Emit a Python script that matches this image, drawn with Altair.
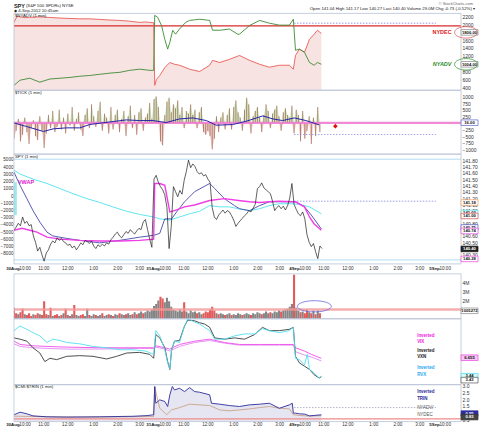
import altair as alt
import pandas as pd

FONT = "Liberation Sans"
W = 448            # plot width in px
X_MAX = 1245       # trading minutes shown: 3 sessions of 390 min + 75 min
STEP = 6           # spacing of the sampled 1-min series (minutes)

# ---------------- x axis (label positions) ----------------
hour_ticks = [31, 83, 150, 222, 289, 350, 421, 473, 540, 612, 679, 740,
              811, 863, 930, 1002, 1069, 1130, 1201]
hour_texts = ["10:00", "11:00", "12:00", "1:00", "2:00", "3:00",
              "10:00", "11:00", "12:00", "1:00", "2:00", "3:00",
              "10:00", "11:00", "12:00", "1:00", "2:00", "3:00", "10:00"]
date_ticks = [31, 421, 811, 1201]
date_labels = ["30Aug", "31Aug", "4Sep", "5Sep"]

# ---------------- panel A: $NYADV / $NYDEC ----------------
dec_t = [0, 8, 17, 31, 44, 72, 100, 128, 156, 183, 211, 239, 267, 295, 322, 350, 367, 378, 389,
         392, 397, 406, 420, 434, 447, 461, 489, 517, 545, 553, 573, 600, 623, 628, 656, 684, 711, 739, 767, 778,
         784, 795, 809, 823, 836, 845, 856]
dec_v = [2050, 2200, 2190, 2170, 2180, 2190, 2175, 2160, 2150, 2140, 2140, 2125, 2110, 2100, 2080, 2050, 2060, 2050, 2040,
         450, 600, 700, 900, 1030, 985, 960, 860, 800, 960, 1085, 1030, 1110, 1190, 1210, 1085, 985, 910, 960, 960, 860,
         1210, 1370, 1290, 1620, 1750, 1850, 1770]
adv_t = [0, 17, 44, 72, 100, 128, 156, 183, 211, 239, 267, 295, 322, 350, 378, 389,
         392, 400, 411, 420, 428, 434, 442, 450, 461, 478, 489, 517, 545, 553, 573, 600, 623, 628, 656, 684, 711, 739, 767, 778,
         784, 795, 809, 823, 836, 845, 856]
adv_v = [450, 580, 630, 530, 610, 630, 650, 680, 700, 730, 760, 780, 830, 860, 830, 830,
         2230, 2180, 1970, 1620, 1370, 1540, 1850, 1750, 1880, 2050, 2100, 2130, 2100, 1850, 1850, 1880, 1750, 1750, 1970, 2100, 2030, 1980, 1980, 2130,
         1340, 1370, 1290, 1030, 960, 1030, 985]
a_ticks = [2200, 2000, 1800, 1600, 1400, 1200, 1000, 800, 600, 400]
a_level = [1960]
a_open = [2030]

# ---------------- panel B: $TICK ----------------
tick_d1 = [-600, -300, 150, -700, -450, 200, -350, -800, -200, 100,
           -500, -650, 250, -300, -950, -400, 300, -200, 450, -350,
           -150, 500, -250, 200, -400, 350, -100, 600, -300, 150,
           400, -250, -500, 300, 550, -200, 700, 250, -150, 450,
           800, -300, 350, 200, -400, 600, -250, 300, 500, -350,
           150, 450, -500, 250, 650, -200, 300, -450, 400, 550,
           -300, 200, 350, 750, 150]
tick_d2 = [900, 1000, 600, -700, -850, 300, 800, 950, 400, 700,
           550, 850, 300, 600, -200, 450, 350, 700, 300, 500,
           -200, 400, 600, -350, -450, -300, -500, -1000, -600, 250,
           -350, 200, 400, -250, 300, 550, -250, 600, 850, 400,
           200, -300, 500, 950, 700, -400, 250, 450, 600, 200,
           -350, 300, 700, 450, -200, 350, 500, 650, 250, -300,
           400, 550, 300, 200, 650]
tick_d3 = [-400, 500, 300, -700, 450, -600, -300, 250, -800, 200, -500, 600, -350]
tma_t = [0, 35, 82, 109, 146, 183, 211, 239, 276, 313, 350, 387, 424, 461, 498, 536, 563, 609, 647, 693, 721, 748, 781, 813, 850]
tma_v = [0, -137, -326, -226, -188, -188, -62, -12, 50, 113, 88, 88, 12, 150, 188, 88, -88, -62, 63, 264, 150, 88, 188, 88, -75]
b_ticks = [1000, 750, 500, 250, 0, -250, -500, -750, -1000]
b_dash = [-440]
b_mark_t = [895]
b_mark_v = [-125]

# ---------------- panel C: SPY price ----------------
px_d1 = [140.69, 140.74, 140.80, 140.76, 140.90, 140.80, 140.83, 140.76, 140.78, 140.60,
         140.50, 140.36, 140.42, 140.30, 140.20, 140.33, 140.38, 140.47, 140.52, 140.49,
         140.57, 140.53, 140.56, 140.51, 140.49, 140.45, 140.47, 140.41, 140.44, 140.38,
         140.43, 140.49, 140.46, 140.53, 140.51, 140.48, 140.52, 140.44, 140.40, 140.46,
         140.43, 140.47, 140.44, 140.49, 140.47, 140.54, 140.58, 140.63, 140.66, 140.60,
         140.57, 140.62, 140.67, 140.64, 140.70, 140.66, 140.63, 140.68, 140.72, 140.70,
         140.82, 140.86, 140.70, 140.55, 140.42]
px_d2 = [141.50, 141.56, 141.45, 141.38, 141.33, 141.25, 141.05, 140.40, 140.75, 141.38,
         141.30, 141.22, 141.32, 141.26, 141.48, 141.62, 141.80, 141.68, 141.74, 141.70,
         141.62, 141.58, 141.60, 141.55, 141.57, 141.50, 141.45, 141.05, 140.90, 140.86,
         140.93, 140.97, 141.01, 140.96, 141.00, 140.98, 140.92, 140.85, 140.75, 140.80,
         140.84, 140.88, 140.92, 140.95, 141.00, 140.98, 141.04, 141.10, 141.35, 141.38,
         141.44, 141.36, 141.33, 141.30, 141.27, 141.15, 141.00, 141.05, 141.08, 141.03,
         141.07, 141.01, 141.08, 141.20, 141.43]
px_d3 = [141.10, 141.02, 140.95, 140.92, 140.98, 140.87, 140.62, 140.50, 140.43, 140.48,
         140.35, 140.24, 140.44, 140.40]
vwap_t = [0, 22, 44, 64, 92, 128, 183, 239, 295, 350, 389, 392, 406, 420, 434, 447, 475, 503, 545, 586,
          625, 656, 684, 711, 739, 778, 784, 809, 823, 836, 856]
vwap_v = [140.69, 140.72, 140.69, 140.66, 140.58, 140.55, 140.53, 140.52, 140.52, 140.53, 140.55, 141.43, 141.43,
          141.40, 140.98, 141.00, 141.06, 141.09, 141.16, 141.19, 141.16, 141.14, 141.13, 141.14, 141.15, 141.14,
          141.14, 141.06, 140.90, 140.79, 140.69]
ma1_t = [0, 17, 36, 53, 72, 92, 108, 147, 183, 239, 295, 350, 389, 406, 420, 439, 453, 475, 503, 545,
         559, 586, 614, 628, 656, 684, 711, 739, 767, 784, 809, 828, 856]
ma1_v = [141.61, 141.40, 141.19, 141.00, 140.82, 140.66, 140.60, 140.56, 140.53, 140.49, 140.53, 140.58, 140.61,
         140.64, 140.87, 140.87, 140.98, 141.14, 141.30, 141.43, 141.35, 141.19, 141.08, 141.03, 141.00, 141.08,
         141.14, 141.14, 141.14, 141.14, 141.06, 140.93, 140.71]
ma2_t = [0, 17, 53, 92, 128, 164, 203, 239, 275, 314, 350, 389, 406, 434, 461, 489, 517, 545, 573, 600,
         625, 656, 684, 711, 739, 767, 795, 823, 856]
ma2_v = [141.64, 141.58, 141.50, 141.43, 141.35, 141.27, 141.19, 141.13, 141.06, 140.99, 140.94, 140.90, 140.87,
         140.85, 140.90, 140.95, 140.99, 141.08, 141.06, 141.06, 141.03, 141.00, 141.03, 141.08, 141.11, 141.11,
         141.10, 141.06, 140.95]
c_ticks = [141.80, 141.70, 141.60, 141.50, 141.40, 141.30, 141.20, 141.10, 141.00, 140.90,
           140.80, 140.70, 140.60, 140.50, 140.40, 140.30]
c_levels = [141.815, 140.22]
c_dotted = [141.15]
c_left_ticks = [5000, 4000, 3000, 2000, 1000, 0, -1000, -2000, -3000, -4000, -5000, -6000, -7000, -8000]
vbp_lo, vbp_hi = [140.93], [141.45]

# ---------------- panel D: volume (millions) ----------------
vol_d1 = [1.2, 0.6, 0.5, 0.7, 1.1, 0.5, 0.4, 0.6, 0.3, 0.5,
          0.4, 0.6, 0.5, 0.4, 1.9, 0.5, 0.4, 1.2, 0.3, 0.4,
          0.5, 0.3, 0.4, 0.6, 1.1, 0.4, 0.3, 0.5, 1.5, 0.4,
          0.3, 0.4, 0.5, 0.3, 1.1, 0.4, 0.3, 0.5, 0.4, 0.3,
          0.4, 0.6, 0.3, 0.4, 0.5, 0.4, 0.3, 0.5, 0.4, 0.6,
          0.5, 0.4, 0.5, 0.6, 0.4, 0.5, 0.7, 0.5, 0.6, 0.8,
          0.6, 0.7, 0.9, 0.8, 1.0]
vol_d2 = [1.4, 1.6, 2.0, 2.4, 2.2, 1.8, 2.3, 1.9, 1.3, 1.0,
          0.9, 0.8, 1.0, 0.8, 1.8, 0.8, 0.6, 0.9, 0.7, 0.8,
          0.6, 0.7, 0.5, 0.6, 0.8, 0.7, 1.0, 1.3, 0.9, 0.6,
          0.5, 0.6, 0.5, 0.4, 0.5, 0.6, 0.4, 0.5, 0.4, 0.6,
          0.5, 0.4, 0.5, 0.6, 0.5, 0.4, 0.6, 0.5, 0.7, 0.6,
          0.5, 0.6, 0.8, 0.6, 0.7, 0.6, 0.8, 0.7, 0.9, 0.8,
          0.9, 1.0, 1.1, 1.3, 1.6]
vol_d3 = [4.8, 1.2, 0.9, 0.7, 0.8, 0.6, 1.0, 0.7, 0.6, 0.9, 0.5, 0.9, 0.6]
d_ticks = [4, 3, 2, 1]
d_band = [1.0]

# ---------------- panel E: inverted VIX / VXN / RVX (relative level, 0-100) ----------------
vxn_t = [0, 17, 36, 53, 72, 86, 100, 119, 147, 183, 220, 258, 286, 314, 350, 378, 389,
         395, 406, 420, 428, 434, 439, 447, 461, 475, 484, 503, 517, 531, 545, 559, 586, 614, 642, 670, 692, 711, 739, 767, 778,
         784, 795, 809, 823, 836, 850, 856]
vxn_v = [71, 69, 66, 56, 48, 35, 40, 38, 43, 44, 43, 39, 43, 48, 49, 46, 40,
         76, 71, 56, 35, 23, 53, 66, 67, 89, 98, 97, 94, 92, 87, 71, 69, 71, 69, 76, 87, 82, 82, 84, 87,
         43, 33, 28, 23, 15, 10, 12]
rvx_t = [0, 17, 36, 53, 72, 92, 108, 128, 147, 183, 220, 258, 295, 331, 367, 389,
         395, 406, 420, 428, 434, 439, 447, 461, 475, 484, 503, 517, 545, 559, 586, 614, 642, 670, 692, 711, 739, 767, 778,
         784, 795, 809, 817, 823, 836, 850, 856]
rvx_v = [82, 89, 84, 79, 74, 64, 69, 67, 64, 62, 58, 56, 53, 53, 51, 46,
         82, 74, 53, 33, 24, 53, 66, 64, 89, 100, 95, 92, 82, 69, 69, 74, 77, 77, 85, 82, 79, 82, 87,
         40, 38, 30, 46, 23, 18, 10, 13]
vix_t = [0, 17, 53, 92, 147, 239, 350, 389, 395, 420, 434, 461, 503, 545, 586, 628, 684, 739, 778, 784, 809, 828, 856]
vix_v = [66, 61, 59, 58, 57, 56, 56, 56, 59, 56, 54, 61, 66, 69, 64, 61, 61, 61, 61, 56, 51, 46, 40]
vix2_v = [62, 58, 56, 55, 54, 54, 55, 55, 57, 54, 51, 58, 64, 67, 63, 60, 60, 60, 60, 50, 45, 42, 36]

# ---------------- panel F: inverted TRIN ----------------
trin_t = [0, 17, 36, 53, 92, 147, 239, 331, 370, 389, 392, 395, 406, 420, 428, 434, 441, 447, 461, 475, 489,
          503, 517, 545, 550, 573, 600, 628, 656, 684, 711, 739, 767, 775, 778, 784, 795, 809, 823, 836, 856]
trin_v = [0.85, 1.04, 0.92, 0.77, 0.70, 0.68, 0.70, 0.74, 0.79, 0.85, 2.93, 1.70, 1.95, 1.83, 1.46, 2.32, 2.93,
          2.68, 2.80, 2.56, 2.85, 2.56, 2.51, 2.32, 1.70, 1.63, 1.53, 1.46, 1.58, 1.63, 1.70, 1.33, 1.58, 1.70,
          0.97, 0.97, 0.92, 0.90, 0.77, 0.80, 0.85]
ratio_t = [0, 100, 200, 300, 389, 392, 397, 406, 425, 439, 461, 489, 517, 545, 573, 600, 628, 656, 684, 711,
           739, 767, 778, 795, 823, 856]
ratio_v = [0.75, 0.70, 0.68, 0.70, 0.72, 2.93, 2.32, 1.33, 0.85, 1.21, 1.38, 1.63, 1.58, 1.53, 1.21, 1.14, 1.21,
           1.28, 1.38, 1.46, 1.33, 1.28, 0.85, 0.80, 0.75, 0.78]
f_ticks = [3.0, 2.5, 2.0, 1.5, 1.0, 0.5]
f_level = [0.55]
f_dotted = [1.38]

# ======================================================================
XSCALE = alt.Scale(domain=[0, X_MAX], nice=False, zero=False)
BORDER = "#b9c3d6"


def sess(lists, step=STEP):
    rows = []
    for d, vals in enumerate(lists):
        for i, v in enumerate(vals):
            rows.append({"t": d * 390 + i * step, "v": v})
    return pd.DataFrame(rows)


def xenc():
    return alt.X("t:Q", scale=XSCALE, axis=None)


def one():
    return pd.DataFrame({"a": [0]})


def txt(s, x, y, color="#222", size=5, weight="normal", align="left", baseline="middle", style="normal"):
    return alt.Chart(one()).mark_text(
        text=s, font=FONT, fontSize=size, fontWeight=weight, fontStyle=style, color=color,
        align=align, baseline=baseline).encode(x=alt.value(x), y=alt.value(y))


def border(y0, y1):
    return alt.Chart(one()).mark_rect(fillOpacity=0, stroke=BORDER, strokeWidth=0.8).encode(
        x=alt.value(0), x2=alt.value(W), y=alt.value(y0), y2=alt.value(y1))


def ellipse(x, y, w, ratio, color):
    r = 2 * ratio
    path = f"M-2,0 A2,{r} 0 1,1 2,0 A2,{r} 0 1,1 -2,0 Z"
    return alt.Chart(one()).mark_point(
        shape=path, size=(w / 2) ** 2, filled=False, color=color, strokeWidth=0.8, opacity=1
    ).encode(x=alt.value(x), y=alt.value(y))


def vbox(y, s, stroke, fill="white", tcol="#111", x=W + 8.5, w=17, h=5.6):
    return [
        alt.Chart(one()).mark_rect(fill=fill, stroke=stroke, strokeWidth=0.7).encode(
            x=alt.value(x - w / 2), x2=alt.value(x + w / 2), y=alt.value(y - h / 2), y2=alt.value(y + h / 2)),
        alt.Chart(one()).mark_text(text=s, font=FONT, fontSize=4.2, fontWeight="bold", color=tcol,
                                   align="center", baseline="middle").encode(x=alt.value(x), y=alt.value(y + 0.3)),
    ]


def right_axis(values, fmt=None, expr=None):
    kw = dict(orient="right", values=values, labelFontSize=5, labelPadding=1, title=None,
              labelFont=FONT, labelColor="#333", domain=False, ticks=False, grid=False)
    if fmt:
        kw["format"] = fmt
    if expr:
        kw["labelExpr"] = expr
    return alt.Axis(**kw)


def time_labels(y):
    hours = alt.Chart(pd.DataFrame({"t": hour_ticks, "s": hour_texts})).mark_text(
        font=FONT, fontSize=4.6, color="#333", align="center", baseline="middle"
    ).encode(x=xenc(), y=alt.value(y), text="s:N")
    dates = alt.Chart(pd.DataFrame({"t": date_ticks, "s": date_labels})).mark_text(
        font=FONT, fontSize=4.4, fontWeight="bold", color="#222", align="right", baseline="middle", dx=-5.5
    ).encode(x=xenc(), y=alt.value(y), text="s:N")
    return [hours, dates]


# ---------------- panel A ----------------
HA = 77
ya_scale = alt.Scale(domain=[324, 2278], nice=False, zero=False)
ya_axis = right_axis(a_ticks, fmt="d")


def YA(field="v"):
    return alt.Y(f"{field}:Q", scale=ya_scale, axis=ya_axis)


dec_df = pd.DataFrame({"t": dec_t, "v": dec_v})
adv_df = pd.DataFrame({"t": adv_t, "v": adv_v})
panel_a = alt.layer(
    alt.Chart(dec_df).mark_area(color="#f8e3e3", clip=True).encode(x=xenc(), y=YA(), y2=alt.datum(324)),
    alt.Chart(pd.DataFrame({"v": a_level})).mark_rule(color="#d92b2b", strokeWidth=1.1).encode(y=YA()),
    alt.Chart(pd.DataFrame({"t": [780], "t2": [1175], "v": a_open})).mark_rule(
        color="#7b7be0", strokeWidth=0.8, strokeDash=[1.5, 1.5]).encode(x=xenc(), x2="t2:Q", y=YA()),
    alt.Chart(dec_df).mark_line(color="#ea5a55", strokeWidth=0.9, clip=True).encode(x=xenc(), y=YA()),
    alt.Chart(adv_df).mark_line(color="#3d8b34", strokeWidth=0.9, clip=True).encode(x=xenc(), y=YA()),
    border(0, HA),
    txt("SPY", 0, -7, size=5.5, weight="bold"),
    txt("(S&P 500 SPDRs) NYSE", 12, -7, size=4.3),
    txt("\u25c6 4-Sep-2012 10:45am", 0, -2.5, size=4.3),
    txt("$NYADV (1 min)", 1, 2.5, size=4.3),
    txt("\u00a9 StockCharts.com", W + 12, -9, size=4, color="#666", align="right"),
    txt("Open 141.04  High 141.17  Low 140.27  Last 140.40  Volume 29.0M  Chg -0.73 (-0.52%) \u25be",
        W + 14, -4, size=4.3, align="right"),
    txt("NYDEC", 429, 19, color="#e02020", size=5.5, weight="bold", align="center"),
    txt("NYADV", 429, 51, color="#2e8b2e", size=5.5, weight="bold", align="center", style="italic"),
    *vbox(19, "1806.00", "#888"),
    *vbox(51, "1004.00", "#888"),
    ellipse(453, 19, 23, 0.5, "#e06060"),
    ellipse(453, 51, 23, 0.5, "#40a040"),
).properties(width=W, height=HA)

# ---------------- panel B ----------------
HB = 64
yb_scale = alt.Scale(domain=[-1181, 1234], nice=False, zero=False)
yb_axis = right_axis(b_ticks, fmt="d")


def YB(field="v"):
    return alt.Y(f"{field}:Q", scale=yb_scale, axis=yb_axis)


tick_df = sess([tick_d1, tick_d2, tick_d3])
panel_b = alt.layer(
    alt.Chart(tick_df).transform_calculate(p="max(datum.v, 0)").mark_area(
        color="#d5ebcb", clip=True).encode(x=xenc(), y=YB("p"), y2=alt.datum(0)),
    alt.Chart(tick_df).transform_calculate(n="min(datum.v, 0)").mark_area(
        color="#f4d0d0", clip=True).encode(x=xenc(), y=YB("n"), y2=alt.datum(0)),
    alt.Chart(tick_df).mark_rule(color="#9c6a4e", strokeWidth=0.8, clip=True).encode(
        x=xenc(), y=YB(), y2=alt.datum(0)),
    alt.Chart(pd.DataFrame({"v": [0]})).mark_rule(color="#f07cd0", strokeWidth=2.2, opacity=0.9).encode(y=YB()),
    alt.Chart(pd.DataFrame({"t": [780], "t2": [1175], "v": b_dash})).mark_rule(
        color="#8080e0", strokeWidth=0.7, strokeDash=[1.5, 1.5]).encode(x=xenc(), x2="t2:Q", y=YB()),
    alt.Chart(pd.DataFrame({"t": tma_t, "v": tma_v})).mark_line(
        color="#2323a8", strokeWidth=1.0, clip=True).encode(x=xenc(), y=YB()),
    alt.Chart(pd.DataFrame({"t": b_mark_t, "v": b_mark_v})).mark_point(
        shape="diamond", filled=True, color="#e01010", size=22, opacity=1).encode(x=xenc(), y=YB()),
    border(0, HB),
    txt("$TICK (1 min)", 1, 2.5, size=4.3),
    *vbox(32.5, "16.00", "#6060d0"),
).properties(width=W, height=HB)

# ---------------- panel C ----------------
HC = 110
yc_scale = alt.Scale(domain=[140.157, 141.895], nice=False, zero=False)
yc_axis = right_axis(c_ticks, fmt=".2f")


def YC(field="v"):
    return alt.Y(f"{field}:Q", scale=yc_scale, axis=yc_axis)


price_df = sess([px_d1, px_d2, px_d3])
price_layers = alt.layer(
    alt.Chart(pd.DataFrame({"v": c_levels})).mark_rule(color="#a9d8f2", strokeWidth=0.9).encode(y=YC()),
    alt.Chart(pd.DataFrame({"t": [0], "t2": [8], "v": vbp_lo, "v2": vbp_hi})).mark_rect(
        color="#7fe3ea", opacity=0.8).encode(x=xenc(), x2="t2:Q", y=YC(), y2="v2:Q"),
    alt.Chart(pd.DataFrame({"t": [780], "t2": [1175], "v": c_dotted})).mark_rule(
        color="#7070e0", strokeWidth=0.7, strokeDash=[1.5, 1.5]).encode(x=xenc(), x2="t2:Q", y=YC()),
    alt.Chart(pd.DataFrame({"t": ma2_t, "v": ma2_v})).mark_line(
        color="#5fe6ee", strokeWidth=1.0, clip=True).encode(x=xenc(), y=YC()),
    alt.Chart(pd.DataFrame({"t": ma1_t, "v": ma1_v})).mark_line(
        color="#4848a8", strokeWidth=0.9, clip=True).encode(x=xenc(), y=YC()),
    alt.Chart(pd.DataFrame({"t": vwap_t, "v": vwap_v})).mark_line(
        color="#f03ee6", strokeWidth=1.4, clip=True).encode(x=xenc(), y=YC()),
    alt.Chart(price_df).mark_line(color="#1d1d1d", strokeWidth=0.7, clip=True).encode(x=xenc(), y=YC()),
)
left_layer = alt.Chart(pd.DataFrame({"w": [0]})).mark_rule(opacity=0).encode(
    y=alt.Y("w:Q", scale=alt.Scale(domain=[-9379, 5793], nice=False, zero=False),
            axis=alt.Axis(orient="left", values=c_left_ticks, format="d", labelFontSize=4.6, labelPadding=1,
                          title=None, labelFont=FONT, labelColor="#333", domain=False, ticks=False, grid=False)))
panel_c = alt.layer(
    price_layers, left_layer,
    border(0, HC),
    txt("SPY (1 min)", 1, 3, size=4.3),
    txt("VWAP", 4, 28, color="#e020d0", size=5.5, weight="bold"),
    *vbox(48.5, "141.18", "#f0a060"),
    *vbox(59, "141.03", "#40d8e8"),
    *vbox(62, "141.00", "#e05050"),
    *vbox(73.5, "140.75", "#5050c0"),
    *vbox(77, "140.74", "#f040e0"),
    *vbox(95, "140.40", "#111", fill="#222", tcol="white"),
    *vbox(105, "140.28", "#f040e0"),
).resolve_scale(y="independent").properties(width=W, height=HC)

# ---------------- panel D (10 px label strip on top + 45 px volume plot) ----------------
STRIP = 10
HD = 45 + STRIP
yd_scale = alt.Scale(domain=[0, 4.9 * HD / 45], nice=False, zero=False)
yd_axis = right_axis(d_ticks, expr="datum.value + 'M'")


def YD(field="v"):
    return alt.Y(f"{field}:Q", scale=yd_scale, axis=yd_axis)


vol_df = sess([vol_d1, vol_d2, vol_d3])
vol_df["k"] = sess([tick_d1, tick_d2, tick_d3])["v"]
panel_d = alt.layer(
    alt.Chart(vol_df).mark_rule(strokeWidth=2.1, clip=True).encode(
        x=xenc(), y=YD(), y2=alt.datum(0),
        color=alt.condition("datum.k < 0", alt.value("#e25a5a"), alt.value("#858585"))),
    alt.Chart(pd.DataFrame({"v": d_band})).mark_rule(color="#f29a9a", strokeWidth=2.5, opacity=0.8).encode(y=YD()),
    border(STRIP, HD),
    ellipse(301, 32.5 + STRIP, 34, 0.33, "#6a6ae0"),
    *vbox(37 + STRIP, "1005272", "#888"),
    *time_labels(5),
).properties(width=W, height=HD)

# ---------------- panel E ----------------
HE = 66
ye_scale = alt.Scale(domain=[0, 100], nice=False, zero=False)


def YE(field="v"):
    return alt.Y(f"{field}:Q", scale=ye_scale, axis=None)


panel_e = alt.layer(
    alt.Chart(pd.DataFrame({"t": vix_t, "v": vix2_v})).mark_line(
        color="#e08af0", strokeWidth=0.9, clip=True).encode(x=xenc(), y=YE()),
    alt.Chart(pd.DataFrame({"t": vix_t, "v": vix_v})).mark_line(
        color="#f04ce8", strokeWidth=0.9, clip=True).encode(x=xenc(), y=YE()),
    alt.Chart(pd.DataFrame({"t": vxn_t, "v": vxn_v})).mark_line(
        color="#3a3a3a", strokeWidth=0.9, clip=True).encode(x=xenc(), y=YE()),
    alt.Chart(pd.DataFrame({"t": rvx_t, "v": rvx_v})).mark_line(
        color="#4fe0ef", strokeWidth=0.9, clip=True).encode(x=xenc(), y=YE()),
    border(0, HE),
    txt("Inverted", 404, 17, color="#f020e0", size=4.5, weight="bold"),
    txt("VIX", 404, 23, color="#f020e0", size=4.5, weight="bold"),
    txt("Inverted", 404, 32, color="#222", size=4.5, weight="bold"),
    txt("VXN", 404, 38, color="#222", size=4.5, weight="bold"),
    txt("Inverted", 404, 49, color="#2aa8f0", size=4.5, weight="bold"),
    txt("RVX", 404, 56, color="#2aa8f0", size=4.5, weight="bold"),
    *vbox(39, "6.655", "#f040e0", fill="#f8c8f4"),
    *vbox(57.5, "3.44", "#40d8e8", fill="#d8f8fa"),
    *vbox(61.5, "3.43", "#555"),
).properties(width=W, height=HE)

# ---------------- panel F ----------------
HF = 37
yf_scale = alt.Scale(domain=[0.35, 3.07], nice=False, zero=False)
yf_axis = right_axis(f_ticks, fmt=".1f")


def YF(field="v"):
    return alt.Y(f"{field}:Q", scale=yf_scale, axis=yf_axis)


trin_df = pd.DataFrame({"t": trin_t, "v": trin_v})
panel_f = alt.layer(
    alt.Chart(trin_df).mark_area(color="#e6e6f3", clip=True).encode(x=xenc(), y=YF(), y2=alt.datum(0.35)),
    alt.Chart(pd.DataFrame({"v": f_level})).mark_rule(color="#f08a8a", strokeWidth=1.4).encode(y=YF()),
    alt.Chart(pd.DataFrame({"t": [780], "t2": [1175], "v": f_dotted})).mark_rule(
        color="#9090b0", strokeWidth=0.7, strokeDash=[1.5, 1.5]).encode(x=xenc(), x2="t2:Q", y=YF()),
    alt.Chart(pd.DataFrame({"t": ratio_t, "v": ratio_v})).mark_line(
        color="#c79a7c", strokeWidth=0.8, clip=True).encode(x=xenc(), y=YF()),
    alt.Chart(trin_df).mark_line(color="#2c2c9c", strokeWidth=0.9, clip=True).encode(x=xenc(), y=YF()),
    border(0, HF),
    txt("$CMI:$TRIN (1 min)", 1, 2.5, size=4.3),
    txt("Inverted", 404, 7, color="#2c2c9c", size=4.5, weight="bold"),
    txt("TRIN", 404, 14, color="#2c2c9c", size=4.5, weight="bold"),
    txt("NYADV/", 404, 23, color="#555", size=4.5),
    txt("NYDEC", 404, 30, color="#555", size=4.5),
    *vbox(29, "0.95", "#2c2c9c", fill="#2c2c9c", tcol="white"),
    *vbox(32.5, "0.83", "#333", fill="#444", tcol="white"),
    *time_labels(HF + 3.2),
).properties(width=W, height=HF)

chart = alt.vconcat(panel_a, panel_b, panel_c, panel_d, panel_e, panel_f,
                    spacing=0, bounds="flush").configure(
    padding={"left": 0, "top": 2, "right": 0, "bottom": 0}, background="white"
).configure_view(stroke="transparent", strokeWidth=0)

chart.save("out.html", embed_options={"renderer": "svg", "actions": False})
